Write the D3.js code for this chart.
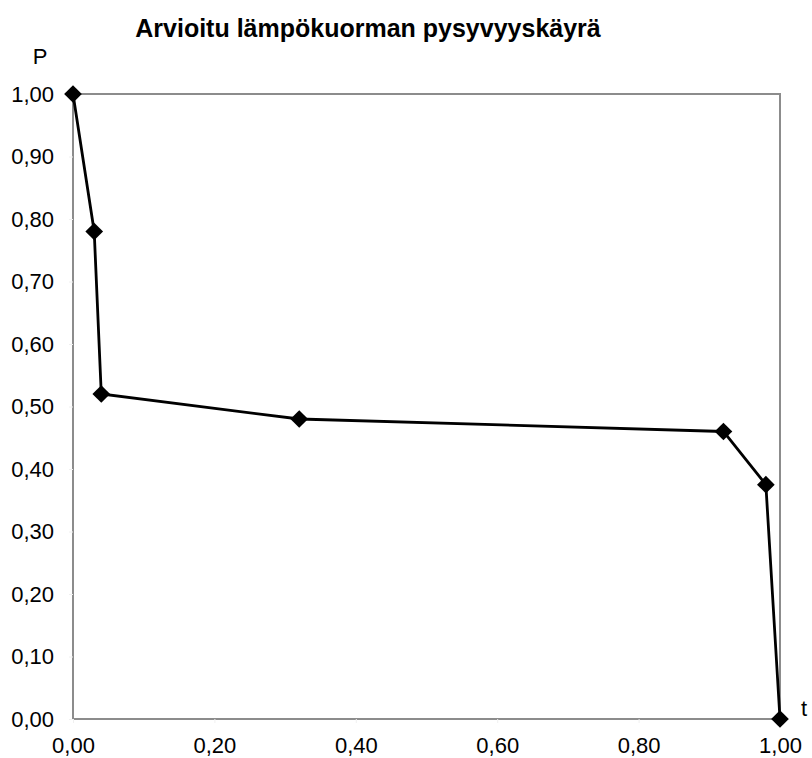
<!DOCTYPE html>
<html>
<head>
<meta charset="utf-8">
<script src="https://cdn.jsdelivr.net/npm/d3@7"></script>
<style>
  body { margin: 0; background: #fff; }
  svg { display: block; font-family: "Liberation Sans", Arial, sans-serif; }
</style>
</head>
<body>
<svg id="chart" width="812" height="758"></svg>
<script>
// Load duration curve: share of time (t) against relative load (P)
const tValues = [0.00, 0.03, 0.04, 0.32, 0.92, 0.98, 1.00];
const pValues = [1.00, 0.78, 0.52, 0.48, 0.46, 0.375, 0.00];
const xTicks = [0, 0.2, 0.4, 0.6, 0.8, 1.0];
const yTicks = [0, 0.1, 0.2, 0.3, 0.4, 0.5, 0.6, 0.7, 0.8, 0.9, 1.0];
const titleText = "Arvioitu lämpökuorman pysyvyyskäyrä";

const svg = d3.select("#chart");
const m = { left: 73, right: 32, top: 94, bottom: 39 };
const W = 812, H = 758;

const x = d3.scaleLinear().domain([0, 1]).range([m.left, W - m.right]);
const y = d3.scaleLinear().domain([0, 1]).range([H - m.bottom, m.top]);
const fmt = v => d3.format(".2f")(v).replace(".", ",");

// plot frame
svg.append("rect")
  .attr("x", x(0)).attr("y", y(1))
  .attr("width", x(1) - x(0)).attr("height", y(0) - y(1))
  .attr("fill", "none").attr("stroke", "#8c8c8c").attr("stroke-width", 2);

// axes
const xAxis = svg.append("g").attr("transform", `translate(0,${y(0)})`)
  .call(d3.axisBottom(x).tickValues(xTicks).tickFormat(fmt).tickSize(4).tickPadding(14));
const yAxis = svg.append("g").attr("transform", `translate(${x(0)},0)`)
  .call(d3.axisLeft(y).tickValues(yTicks).tickFormat(fmt).tickSize(4).tickPadding(15));
[xAxis, yAxis].forEach(g => {
  g.attr("font-size", null).attr("font-family", null);
  g.select(".domain").remove();
  g.selectAll(".tick line").attr("stroke", "#f0f0f0");
  g.selectAll(".tick text").attr("font-size", 22).attr("fill", "#000");
});

// curve
const pts = tValues.map((t, i) => ({ t, p: pValues[i] }));
svg.append("path").datum(pts)
  .attr("fill", "none").attr("stroke", "#000").attr("stroke-width", 2.8)
  .attr("d", d3.line().x(d => x(d.t)).y(d => y(d.p)));

svg.selectAll(".mark").data(pts).enter().append("path")
  .attr("class", "mark")
  .attr("transform", d => `translate(${x(d.t)},${y(d.p)})`)
  .attr("d", d3.symbol().type(d3.symbolDiamond2).size(200))
  .attr("fill", "#000");

// title and axis names
svg.append("text").attr("x", 368).attr("y", 37).attr("text-anchor", "middle")
  .attr("font-size", 25).attr("font-weight", "bold").text(titleText);
svg.append("text").attr("x", 40).attr("y", 64).attr("text-anchor", "middle")
  .attr("font-size", 22).text("P");
svg.append("text").attr("x", 804).attr("y", 716).attr("text-anchor", "middle")
  .attr("font-size", 22).text("t");
</script>
</body>
</html>
